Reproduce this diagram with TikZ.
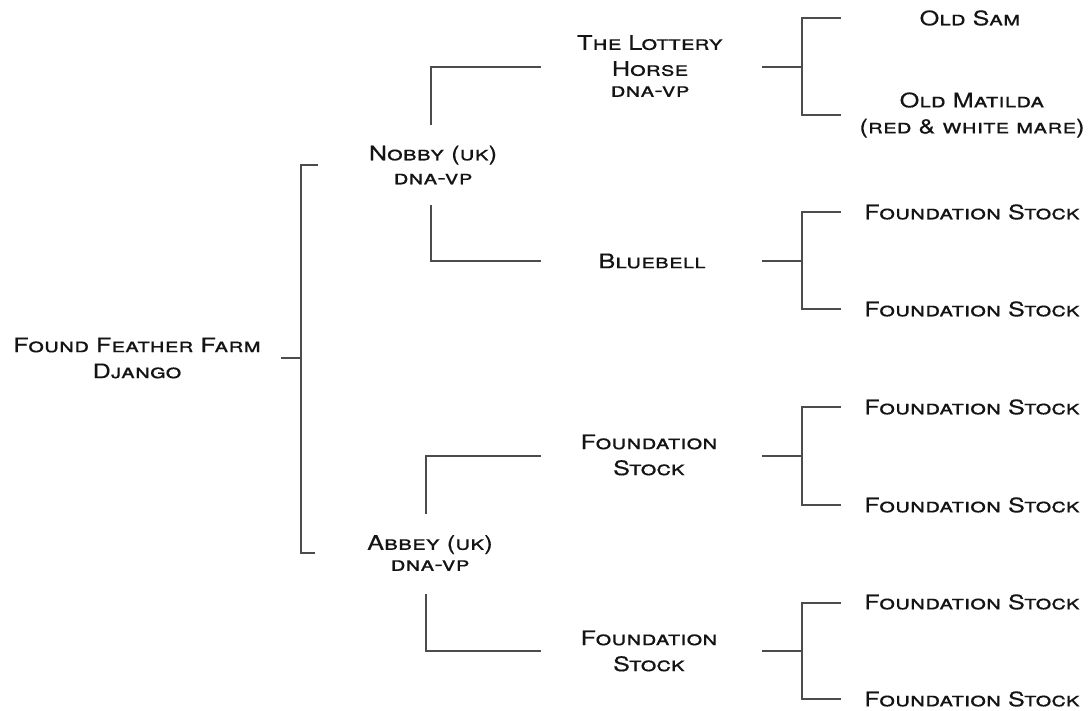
\documentclass[tikz,border=0pt]{standalone}
\usepackage{fontspec}
\newfontfamily\cpfont{TeX Gyre Heros}[FakeStretch=1.26,FakeBold=0.4]
\begin{document}
\begin{tikzpicture}[x=1pt,y=-1pt,
  lbl/.style={inner sep=0pt,align=center,text=black!92,
    font=\cpfont\scshape\fontsize{20}{26}\selectfont},
  conn/.style={draw=black!70,line width=1.5pt}]
\useasboundingbox (0,0) rectangle (1088,711);
% text nodes
\node[lbl] (root) at (137,358) {Found Feather Farm\\Django};
\node[lbl] (nobby) at (433,165) {Nobby (uk)\\[-2pt]dna-vp};
\node[lbl] (abbey) at (430,553) {Abbey (uk)\\[-5pt]dna-vp};
\node[lbl] (lottery) at (650,66) {The Lottery\\Horse\\[-5pt]dna-vp};
\node[lbl] (bluebell) at (652,261) {Bluebell};
\node[lbl] (fsA) at (649,455) {Foundation\\Stock};
\node[lbl] (fsB) at (649,651) {Foundation\\Stock};
\node[lbl] (oldsam) at (970,18) {Old Sam};
\node[lbl] (matilda) at (972,115) {Old Matilda\\(red \& white mare)};
\node[lbl] (fs1) at (972,212) {Foundation Stock};
\node[lbl] (fs2) at (972,309) {Foundation Stock};
\node[lbl] (fs3) at (972,407) {Foundation Stock};
\node[lbl] (fs4) at (972,505) {Foundation Stock};
\node[lbl] (fs5) at (972,602) {Foundation Stock};
\node[lbl] (fs6) at (972,699) {Foundation Stock};
% bracket coordinates
\coordinate (rootE) at (281,358);
\coordinate (rJ) at (301,358);
\coordinate (rT) at (301,165);
\coordinate (rB) at (301,553);
\coordinate (rTe) at (318,165);
\coordinate (rBe) at (315,553);
% Nobby
\coordinate (nU) at (431,125);
\coordinate (nUc) at (431,67);
\coordinate (nUe) at (541,67);
\coordinate (nD) at (431,205);
\coordinate (nDc) at (431,261);
\coordinate (nDe) at (541,261);
% Abbey
\coordinate (aU) at (426,514);
\coordinate (aUc) at (426,456);
\coordinate (aUe) at (541,456);
\coordinate (aD) at (426,594);
\coordinate (aDc) at (426,651);
\coordinate (aDe) at (541,651);
% root bracket
\draw[conn] (rootE) -- (rJ);
\draw[conn] (rTe) -- (rT) -- (rB) -- (rBe);
% second generation
\draw[conn] (nU) -- (nUc) -- (nUe);
\draw[conn] (nD) -- (nDc) -- (nDe);
\draw[conn] (aU) -- (aUc) -- (aUe);
\draw[conn] (aD) -- (aDc) -- (aDe);
% third generation brackets
\foreach \n/\y/\t/\b in {l/67/18/115, b/261/212/309, c/456/407/505, d/651/603/699}{
  \coordinate (\n s) at (762,\y);
  \coordinate (\n j) at (802,\y);
  \coordinate (\n t) at (802,\t);
  \coordinate (\n b) at (802,\b);
  \coordinate (\n te) at (841,\t);
  \coordinate (\n be) at (841,\b);
  \draw[conn] (\n s) -- (\n j);
  \draw[conn] (\n te) -- (\n t) -- (\n b) -- (\n be);
}
\end{tikzpicture}
\end{document}
